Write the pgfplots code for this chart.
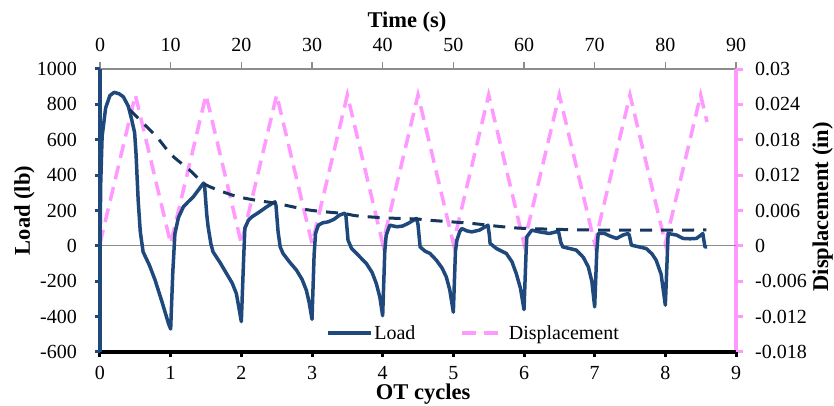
\documentclass[border=0pt]{standalone}
\usepackage{pgfplots}
\pgfplotsset{compat=1.18}
\usepackage{fontspec}
\setmainfont{Liberation Serif}
\definecolor{loadblue}{HTML}{1F497D}
\definecolor{envblue}{HTML}{17365D}
\definecolor{disppink}{HTML}{FF99FF}
\definecolor{zerogray}{HTML}{8C8C8C}
\begin{document}
\begin{tikzpicture}
% ---------- displacement axis (top / right) ----------
\begin{axis}[
  at={(0,0)}, anchor=south west,
  scale only axis, width=636pt, height=283pt,
  xmin=0, xmax=90, ymin=-0.018, ymax=0.03,
  axis x line*=top, axis y line*=right,
  x axis line style={zerogray, line width=1.2pt, -},
  y axis line style={disppink, line width=4pt, -},
  xtick={0,10,20,30,40,50,60,70,80,90},
  xticklabels={0,10,20,30,40,50,60,70,80,90},
  ytick={-0.018,-0.012,-0.006,0,0.006,0.012,0.018,0.024,0.03},
  yticklabels={-0.018,-0.012,-0.006,0,0.006,0.012,0.018,0.024,0.03},
  scaled y ticks=false, scaled x ticks=false,
  tick align=outside, major tick length=7pt,
  xtick style={zerogray, line width=1.2pt},
  ytick style={disppink, line width=3pt},
  /pgf/number format/assume math mode=true,
  ticklabel style={font=\fontsize{20}{24}\selectfont, text=black},
  xticklabel style={anchor=base, inner sep=0pt, yshift=10pt},
  yticklabel style={anchor=west, inner sep=0pt, xshift=12pt},
  xlabel={\textbf{Time (s)}},
  ylabel={\textbf{Displacement (in)}},
  label style={font=\fontsize{22.5}{26}\selectfont},
  xlabel style={at={(axis description cs:0.4827,1.1484)}, anchor=base, inner sep=0pt},
  ylabel style={at={(axis description cs:1.1447,0.513)}, anchor=base, inner sep=0pt},
  clip=false,
]
\addplot[disppink, line width=3.5pt, dash pattern=on 14pt off 8pt] coordinates {
 (0,0.0004) (5,0.0256) (10,0.0004) (15,0.0256) (20,0.0004) (25,0.0256)
 (30,0.0004) (35,0.0256) (40,0.0004) (45,0.0256) (50,0.0004) (55,0.0256)
 (60,0.0004) (65,0.0256) (70,0.0004) (75,0.0256) (80,0.0004) (85,0.0256)
 (85.9,0.0210)
};
\end{axis}
% ---------- load axis (bottom / left) ----------
\begin{axis}[
  name=main,
  at={(0,0)}, anchor=south west,
  scale only axis, width=636pt, height=283pt,
  xmin=0, xmax=9, ymin=-600, ymax=1000,
  axis x line*=bottom, axis y line*=left,
  x axis line style={black, line width=4pt, -},
  y axis line style={loadblue, line width=4pt, -},
  xtick={0,1,2,3,4,5,6,7,8,9},
  xticklabels={0,1,2,3,4,5,6,7,8,9},
  ytick={-600,-400,-200,0,200,400,600,800,1000},
  yticklabels={-600,-400,-200,0,200,400,600,800,1000},
  tick align=outside, major tick length=5pt,
  xtick style={black, line width=3pt},
  ytick style={loadblue, line width=3pt},
  /pgf/number format/assume math mode=true,
  ticklabel style={font=\fontsize{20}{24}\selectfont, text=black},
  xticklabel style={anchor=base, inner sep=0pt, yshift=-22pt},
  yticklabel style={anchor=east, inner sep=0pt, xshift=-18pt},
  xlabel={\textbf{OT cycles}},
  ylabel={\textbf{Load (lb)}},
  label style={font=\fontsize{22.5}{26}\selectfont},
  xlabel style={at={(axis description cs:0.508,-0.1696)}, anchor=base, inner sep=0pt},
  ylabel style={at={(axis description cs:-0.1101,0.5)}, anchor=base, inner sep=0pt},
  clip=false,
  legend style={draw=none, fill=none, at={(axis description cs:0.587,0.067)}, anchor=center,
    font=\fontsize{20}{24}\selectfont, inner sep=0pt,
    /tikz/every even column/.append style={column sep=43pt}},
  legend columns=2,
  legend image code/.code={\draw[#1] (0pt,0pt) -- (43pt,0pt);},
]
\addplot[zerogray, line width=1.2pt, forget plot] coordinates {(0,0) (9,0)};
\addplot[loadblue, line width=3.5pt, line join=round] coordinates {
(0,0) (0.01,350) (0.03,620) (0.08,780) (0.14,850) (0.2,868) (0.27,860) (0.33,843)
(0.4,790) (0.45,711) (0.49,640) (0.51,520) (0.54,259) (0.57,80) (0.61,-34)
(0.7,-110) (0.78,-194) (0.88,-320) (0.97,-440) (1.0,-470) (1.03,-150) (1.06,70)
(1.11,160) (1.18,221) (1.25,250) (1.32,277) (1.40,320) (1.465,355) (1.48,340)
(1.51,180) (1.53,108) (1.57,10) (1.60,-34) (1.7,-95) (1.79,-156) (1.87,-210)
(1.93,-270) (1.97,-360) (2.0,-428) (2.03,-100) (2.05,100) (2.1,145) (2.15,164)
(2.25,190) (2.36,221) (2.475,249) (2.49,230) (2.52,80) (2.55,-6) (2.59,-43)
(2.68,-90) (2.78,-137) (2.86,-190) (2.92,-251) (2.96,-320) (3.0,-415) (3.03,-50)
(3.05,70) (3.09,117) (3.15,130) (3.23,136) (3.31,150) (3.39,174) (3.465,185)
(3.48,170) (3.51,32) (3.56,-15) (3.66,-55) (3.77,-100) (3.85,-150) (3.91,-213)
(3.96,-290) (4.0,-395) (4.03,-30) (4.05,60) (4.10,117) (4.20,108) (4.28,112)
(4.36,127) (4.48,155) (4.50,120) (4.53,-6) (4.60,-30) (4.67,-43) (4.76,-81)
(4.84,-125) (4.90,-175) (4.95,-250) (5.0,-375) (5.03,-30) (5.05,32) (5.09,80)
(5.12,98) (5.19,85) (5.26,79) (5.37,89) (5.49,117) (5.51,60) (5.52,14)
(5.61,-15) (5.75,-43) (5.83,-90) (5.89,-156) (5.95,-240) (6.0,-360) (6.03,-30)
(6.04,51) (6.11,89) (6.22,79) (6.36,70) (6.46,80) (6.49,79) (6.52,20) (6.55,-6)
(6.74,-24) (6.84,-65) (6.91,-119) (6.96,-200) (7.0,-345) (7.03,-30) (7.05,70)
(7.14,70) (7.22,55) (7.31,42) (7.40,61) (7.47,70) (7.49,60) (7.52,4) (7.73,-15)
(7.81,-45) (7.87,-81) (7.94,-160) (8.0,-335) (8.03,-30) (8.04,70) (8.16,61)
(8.25,42) (8.35,40) (8.44,42) (8.5,60) (8.53,70) (8.55,20) (8.56,-6) (8.59,-6)
};
\addlegendentry{Load}
\addplot[envblue, line width=3pt, dash pattern=on 12pt off 9pt, smooth, forget plot] coordinates {
(0.42,770) (0.62,690) (0.82,608) (1.01,515) (1.27,428) (1.46,355) (1.63,322)
(1.93,280) (2.22,257) (2.5,240) (2.92,205) (3.2,192) (3.47,182) (3.63,170)
(4.05,158) (4.48,152) (4.62,146) (5.23,128) (5.6,112) (5.94,100) (6.41,94)
(6.88,90) (7.31,89) (7.78,89) (8.25,89) (8.58,91)
};
\addlegendimage{disppink, line width=3.5pt, dash pattern=on 14pt off 8pt}
\addlegendentry{Displacement}
\end{axis}
\pgfresetboundingbox
\path[use as bounding box] (-100pt,-54pt) rectangle (734pt,352pt);
\end{tikzpicture}
\end{document}
